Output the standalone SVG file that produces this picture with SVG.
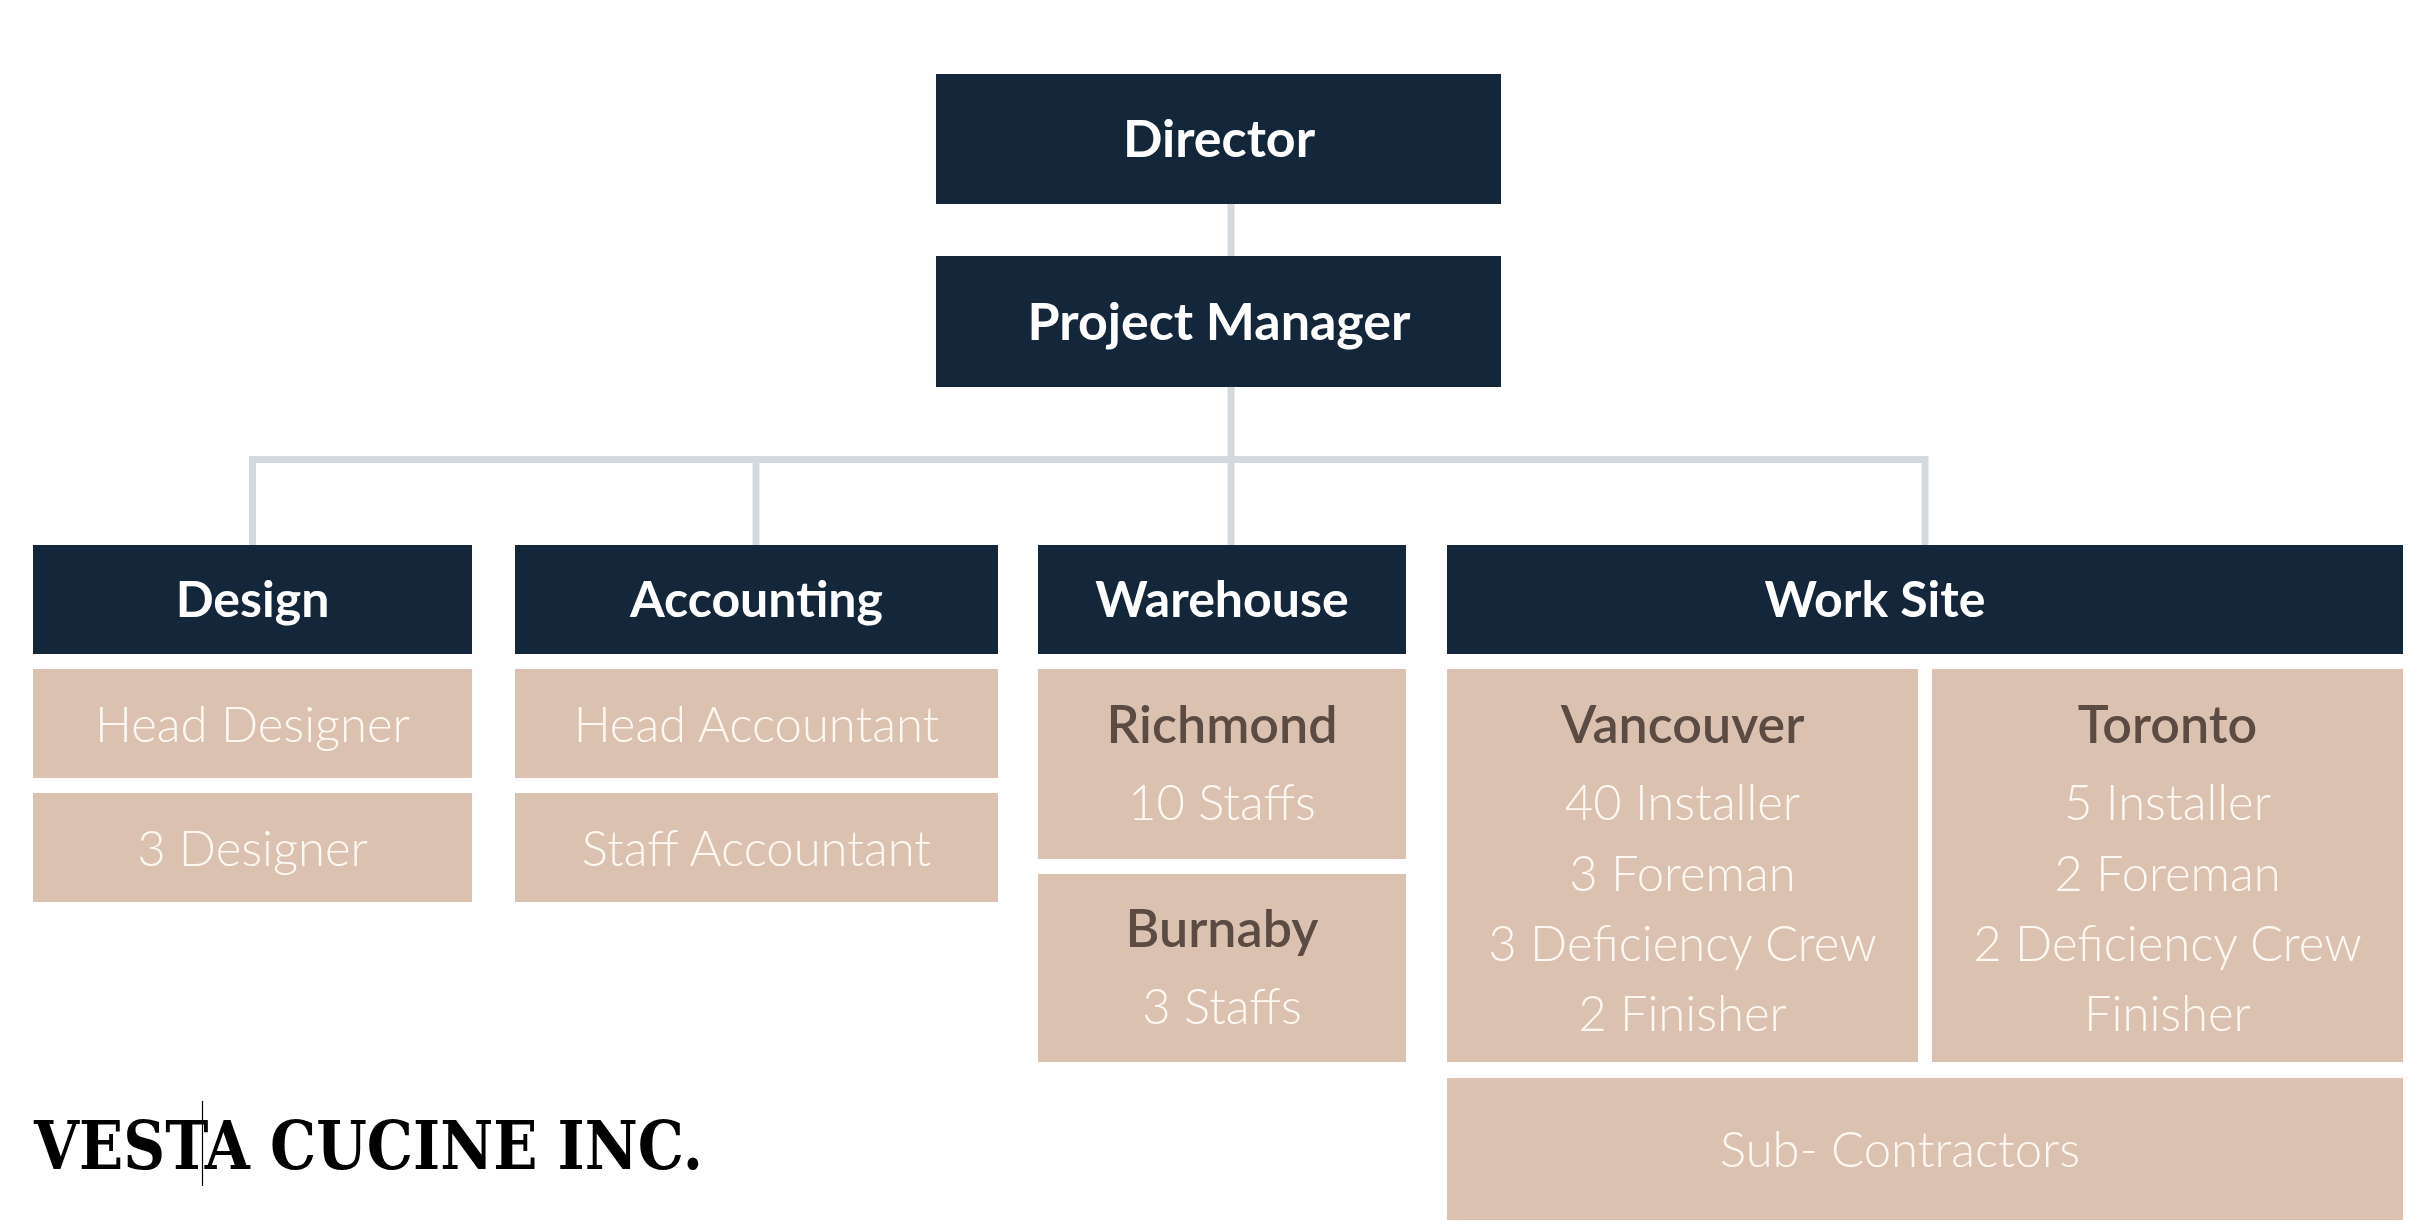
<svg xmlns="http://www.w3.org/2000/svg" width="2421" height="1230" viewBox="0 0 2421 1230">
<style>
.hdr{fill:#14263a}
.sub{fill:#dbc2b0}
.ht{font-family:Lato,"Source Sans Pro","Open Sans",sans-serif;font-weight:bold;fill:#ffffff;text-anchor:middle}
.lt{font-family:Lato,"Source Sans Pro","Open Sans",sans-serif;font-weight:300;font-size:49px;fill:#fdf8f2;text-anchor:middle}
.ct{font-family:Lato,"Source Sans Pro","Open Sans",sans-serif;font-weight:600;font-size:52px;fill:#5b4b43;text-anchor:middle}
.conn{fill:none;stroke:#d4d9de;stroke-width:7;stroke-linejoin:miter}
</style>
<rect width="2421" height="1230" fill="#ffffff"/>
<g id="connectors">
<line class="conn" x1="1231" y1="204" x2="1231" y2="256"/>
<line class="conn" x1="1231" y1="386" x2="1231" y2="545"/>
<path class="conn" d="M252.5,545 V459.5 H1925 V545"/>
<line class="conn" x1="756" y1="459.5" x2="756" y2="545"/>
</g>
<g id="director">
<rect class="hdr" x="936" y="74" width="565" height="130"/>
<text class="ht" x="1219" y="157" font-size="52">Director</text>
</g>
<g id="project-manager">
<rect class="hdr" x="936" y="256" width="565" height="131"/>
<text class="ht" x="1219" y="340" font-size="52">Project Manager</text>
</g>
<g id="design">
<rect class="hdr" x="33" y="545" width="439" height="109"/>
<text class="ht" x="252.5" y="617" font-size="50">Design</text>
</g>
<g id="head-designer">
<rect class="sub" x="33" y="669" width="439" height="109"/>
<text class="lt" x="252.5" y="742">Head Designer</text>
</g>
<g id="designer">
<rect class="sub" x="33" y="793" width="439" height="109"/>
<text class="lt" x="252.5" y="866">3 Designer</text>
</g>
<g id="accounting">
<rect class="hdr" x="515" y="545" width="483" height="109"/>
<text class="ht" x="756.5" y="617" font-size="50">Accounting</text>
</g>
<g id="head-accountant">
<rect class="sub" x="515" y="669" width="483" height="109"/>
<text class="lt" x="756.5" y="742">Head Accountant</text>
</g>
<g id="staff-accountant">
<rect class="sub" x="515" y="793" width="483" height="109"/>
<text class="lt" x="756.5" y="866">Staff Accountant</text>
</g>
<g id="warehouse">
<rect class="hdr" x="1038" y="545" width="368" height="109"/>
<text class="ht" x="1222" y="617" font-size="50">Warehouse</text>
</g>
<g id="richmond">
<rect class="sub" x="1038" y="669" width="368" height="190"/>
<text class="ct" x="1222" y="743">Richmond</text>
<text class="lt" x="1222" y="820">10 Staffs</text>
</g>
<g id="burnaby">
<rect class="sub" x="1038" y="874" width="368" height="188"/>
<text class="ct" x="1222" y="947">Burnaby</text>
<text class="lt" x="1222" y="1024">3 Staffs</text>
</g>
<g id="work-site">
<rect class="hdr" x="1447" y="545" width="956" height="109"/>
<text class="ht" x="1875" y="617" font-size="50">Work Site</text>
</g>
<g id="vancouver">
<rect class="sub" x="1447" y="669" width="471" height="393"/>
<text class="ct" x="1682.5" y="743">Vancouver</text>
<text class="lt" x="1682.5" y="820">40 Installer</text>
<text class="lt" x="1682.5" y="891">3 Foreman</text>
<text class="lt" x="1682.5" y="961">3 Deficiency Crew</text>
<text class="lt" x="1682.5" y="1031">2 Finisher</text>
</g>
<g id="toronto">
<rect class="sub" x="1932" y="669" width="471" height="393"/>
<text class="ct" x="2167.5" y="743">Toronto</text>
<text class="lt" x="2167.5" y="820">5 Installer</text>
<text class="lt" x="2167.5" y="891">2 Foreman</text>
<text class="lt" x="2167.5" y="961">2 Deficiency Crew</text>
<text class="lt" x="2167.5" y="1031">Finisher</text>
</g>
<g id="sub-contractors">
<rect class="sub" x="1447" y="1078" width="956" height="142"/>
<text class="lt" x="1900" y="1167">Sub- Contractors</text>
</g>
<g id="title">
<text x="34" y="1169" font-family="'DejaVu Serif','Liberation Serif',serif" font-stretch="condensed" font-weight="bold" font-size="68" fill="#000000" textLength="669" lengthAdjust="spacingAndGlyphs">VESTA CUCINE INC.</text>
<line x1="202.5" y1="1101" x2="202.5" y2="1186" stroke="#000000" stroke-width="1.2"/>
</g>
</svg>
